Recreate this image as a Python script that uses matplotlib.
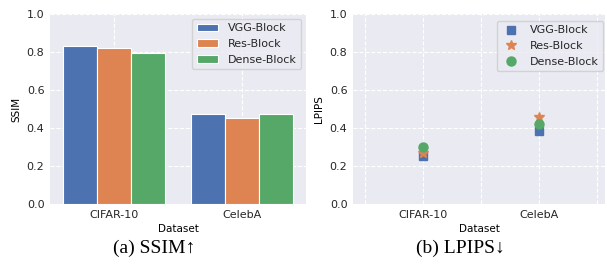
import numpy as np
import matplotlib
matplotlib.use("Agg")
import matplotlib.pyplot as plt

datasets = ["CIFAR-10", "CelebA"]
models = ["VGG-Block", "Res-Block", "Dense-Block"]
ssim = {"VGG-Block": [0.83, 0.475], "Res-Block": [0.82, 0.455], "Dense-Block": [0.795, 0.475]}
lpips = {"VGG-Block": [0.253, 0.383], "Res-Block": [0.27, 0.456], "Dense-Block": [0.30, 0.423]}
colors = ["#4C72B0", "#DD8452", "#55A868"]
markers = ["s", "*", "o"]
msizes = [6, 7, 6.5]

plt.rcParams["font.family"] = ["DejaVu Sans"]
plt.rcParams["text.color"] = "#262626"
plt.rcParams["xtick.color"] = "#262626"
plt.rcParams["ytick.color"] = "#262626"


def style_axes(ax):
    ax.set_facecolor("#EAEAF2")
    for s in ax.spines.values():
        s.set_visible(False)
    ax.grid(True, color="white", linestyle="--", linewidth=0.8)
    ax.set_axisbelow(True)
    ax.tick_params(length=0, labelsize=8, pad=4)
    ax.set_ylim(0, 1.0)
    ax.set_yticks(np.arange(0, 1.01, 0.2))
    ax.set_yticklabels([f"{v:.1f}" for v in np.arange(0, 1.01, 0.2)])


fig = plt.figure(figsize=(6.07, 2.70), dpi=100)
W, H = 607, 270
ax1 = fig.add_axes([50 / W, 1 - 204 / H, 256 / W, 190 / H])
ax2 = fig.add_axes([353 / W, 1 - 204 / H, 252 / W, 190 / H])

# (a) SSIM bars
x = np.arange(len(datasets))
bw = 0.8 / len(models)
for i, m in enumerate(models):
    ax1.bar(x + (i - 1) * bw, ssim[m], width=bw, color=colors[i],
            edgecolor="white", linewidth=0.8, label=m)
style_axes(ax1)
ax1.set_xlim(-0.5, 1.5)
ax1.set_xticks(x)
ax1.set_xticklabels(datasets)
ax1.set_ylabel("SSIM", fontsize=7.5, labelpad=4)
ax1.set_xlabel("Dataset", fontsize=7.5, labelpad=3)
ax1.legend(loc="upper right", fontsize=8, frameon=True, facecolor="#EAEAF2",
           edgecolor="#CCCCCC", framealpha=0.8, borderpad=0.4,
           handlelength=1.9, handletextpad=0.9, labelspacing=0.5,
           borderaxespad=0.45)

# (b) LPIPS points
for i, m in enumerate(models):
    ax2.plot(x, lpips[m], linestyle="none", marker=markers[i], color=colors[i],
             markersize=msizes[i], label=m)
style_axes(ax2)
ax2.set_xlim(-0.6, 1.57)
ax2.set_xticks([-0.5, 0, 0.5, 1, 1.5])
ax2.set_xticklabels(["", datasets[0], "", datasets[1], ""])
ax2.set_ylabel("LPIPS", fontsize=7.5, labelpad=4)
ax2.set_xlabel("Dataset", fontsize=7.5, labelpad=3)
ax2.legend(loc="upper right", bbox_to_anchor=(1.0, 0.975), fontsize=8,
           frameon=True, facecolor="#EAEAF2", edgecolor="#CCCCCC",
           framealpha=0.8, borderpad=0.4, handlelength=1.6,
           handletextpad=0.9, labelspacing=0.5, borderaxespad=0.2)

cap_font = ["Liberation Serif", "DejaVu Serif"]
fig.text(154 / W, 1 - 248 / H, "(a) SSIM\u2191", ha="center", va="center",
         fontsize=14, family=cap_font, color="black")
fig.text(460 / W, 1 - 248 / H, "(b) LPIPS\u2193", ha="center", va="center",
         fontsize=14, family=cap_font, color="black")

fig.savefig("out.png", dpi=100)
